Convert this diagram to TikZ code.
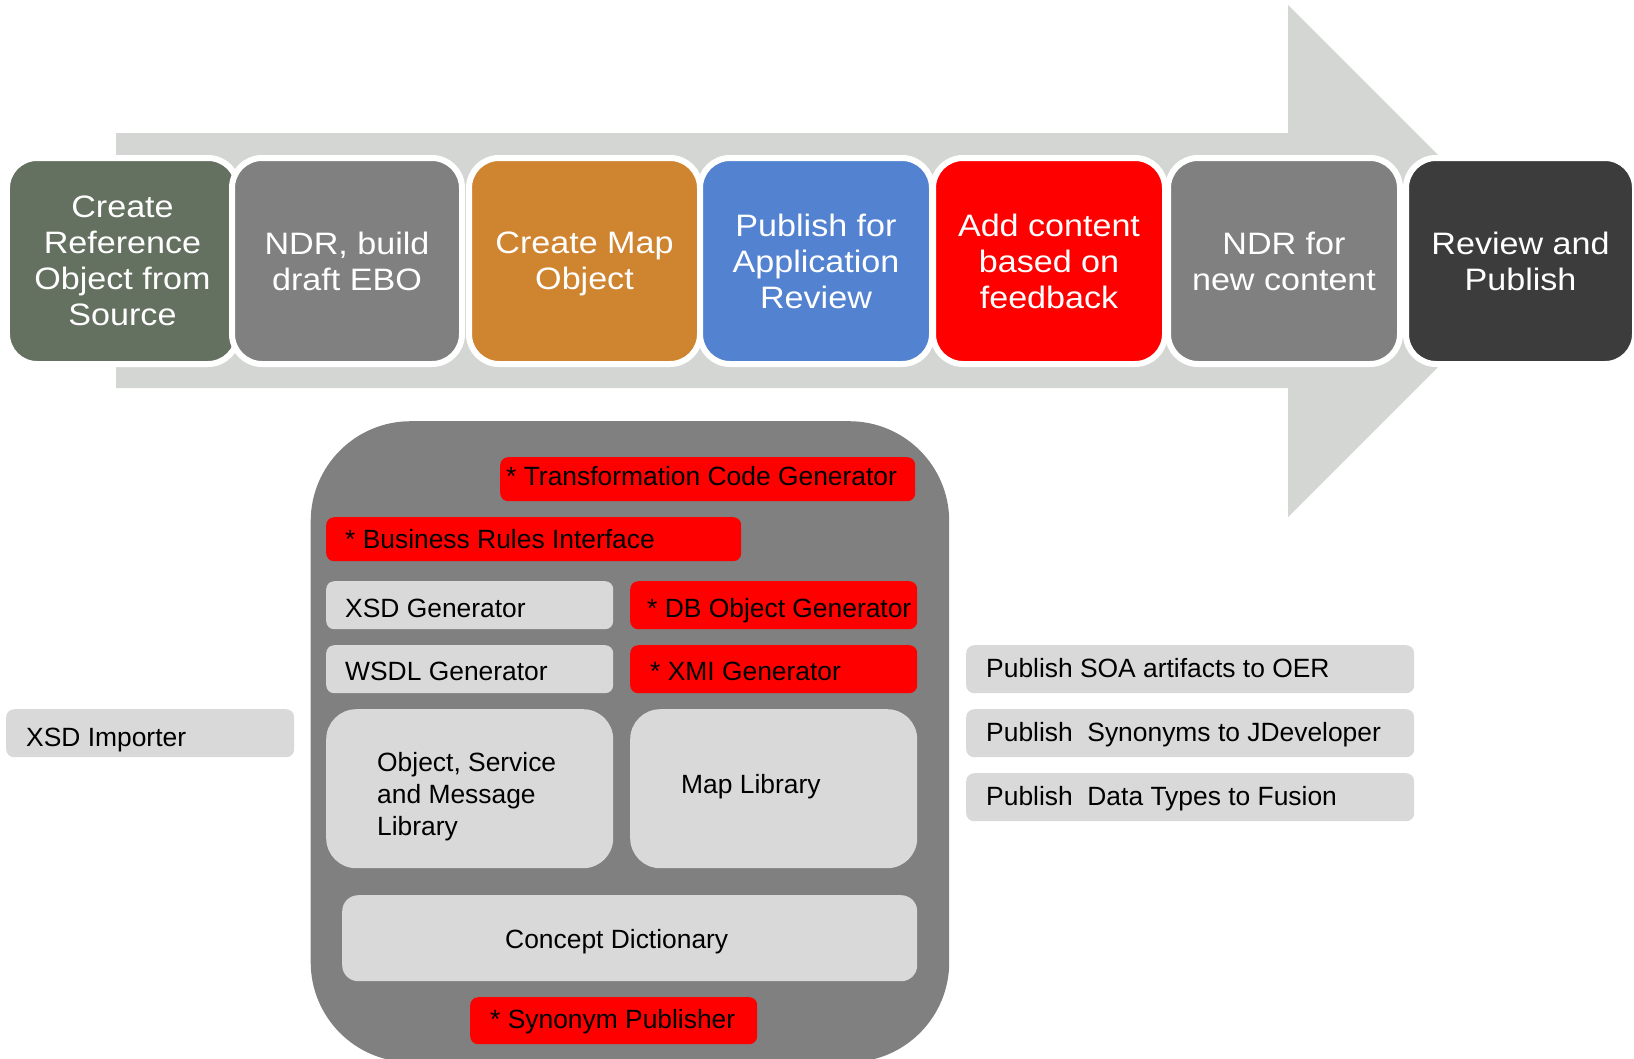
\documentclass[tikz,border=0pt]{standalone}
\usepackage{fontspec}
\usepackage{graphicx}
\setmainfont{Liberation Sans}
\definecolor{arrowgray}{RGB}{212,214,211}
\definecolor{stepgreen}{RGB}{100,112,96}
\definecolor{midgray}{RGB}{128,128,128}
\definecolor{steporange}{RGB}{207,132,48}
\definecolor{stepblue}{RGB}{82,130,208}
\definecolor{stepred}{RGB}{255,0,0}
\definecolor{stepdark}{RGB}{60,60,60}
\definecolor{lightbox}{RGB}{217,217,217}
% header lines are set slightly wide
\newcommand\hw[1]{\scalebox{1.10}[1]{#1}}
\begin{document}
\begin{tikzpicture}[x=1bp,y=-1bp,
  stepbox/.style={draw=white, line width=6bp, rounded corners=30bp,
    minimum width=#1, minimum height=206bp, inner sep=0pt,
    text=white, align=center, text depth=0pt,
    font=\fontsize{31bp}{36bp}\selectfont},
  panel/.style={fill=midgray, rounded corners=100bp, inner sep=0pt, anchor=north west},
  tool/.style={fill=lightbox, rounded corners=8bp, inner sep=0pt, anchor=north west},
  newtool/.style={fill=stepred, rounded corners=8bp, inner sep=0pt, anchor=north west},
  lib/.style={fill=lightbox, rounded corners=30bp, inner sep=0pt, anchor=north west},
  lbl/.style={anchor=base west, inner sep=0pt, text=black,
    font=\fontsize{26.4bp}{31.6bp}\selectfont},
  mlbl/.style={anchor=north west, inner sep=0pt, text=black, align=left,
    font=\fontsize{26.4bp}{31.6bp}\selectfont}]
\useasboundingbox (0,0) rectangle (1634,1058);

% process arrow
\fill[arrowgray] (116,133) -- (1288,133) -- (1288,5) -- (1544,261)
  -- (1288,517) -- (1288,388) -- (116,388) -- cycle;

% process steps
\node[stepbox=231bp, fill=stepgreen]  (s1) at (122.5,261) {\hw{Create}\\\hw{Reference}\\\hw{Object from}\\\hw{Source}};
\node[stepbox=230bp, fill=midgray]    (s2) at (347,261)   {\hw{NDR, build}\\\hw{draft EBO}};
\node[stepbox=231bp, fill=steporange] (s3) at (584.5,261) {\hw{Create Map}\\\hw{Object}};
\node[stepbox=232bp, fill=stepblue]   (s4) at (816,261)   {\hw{Publish for}\\\hw{Application}\\\hw{Review}};
\node[stepbox=232bp, fill=stepred]    (s5) at (1049,261)  {\hw{Add content}\\\hw{based on}\\\hw{feedback}};
\node[stepbox=232bp, fill=midgray]    (s6) at (1284,261)  {\hw{NDR for}\\\hw{new content}};
\node[stepbox=229bp, fill=stepdark]   (s7) at (1520.5,261){\hw{Review and}\\\hw{Publish}};

% tool set panel
\node[panel, minimum width=638.5bp, minimum height=641bp] (pan) at (310.5,421) {};

\node[newtool, minimum width=415bp, minimum height=44bp] (tcg) at (500,457) {};
\node[lbl] (tcgT) at (506,485) {* Transformation Code Generator};

\node[newtool, minimum width=415bp, minimum height=44bp] (bri) at (326,517) {};
\node[lbl] (briT) at (345,548) {* Business Rules Interface};

\node[tool, minimum width=287bp, minimum height=48bp] (xsdg) at (326,581) {};
\node[lbl] (xsdgT) at (345,617) {XSD Generator};

\node[newtool, minimum width=287bp, minimum height=48bp] (dbo) at (630,581) {};
\node[lbl] (dboT) at (647,617) {* DB Object Generator};

\node[tool, minimum width=287bp, minimum height=48bp] (wsdl) at (326,645) {};
\node[lbl] (wsdlT) at (345,680) {WSDL Generator};

\node[newtool, minimum width=287bp, minimum height=48bp] (xmi) at (630,645) {};
\node[lbl] (xmiT) at (650,680) {* XMI Generator};

\node[lib, minimum width=287bp, minimum height=159bp] (osm) at (326,709) {};
\node[mlbl] (osmT) at (377,752.5) {Object, Service\\and Message\\Library};

\node[lib, minimum width=287bp, minimum height=159bp] (map) at (630,709) {};
\node[lbl] (mapT) at (681,793) {Map Library};

\node[tool, rounded corners=16bp, minimum width=575bp, minimum height=86bp] (cd) at (342,895) {};
\node[lbl] (cdT) at (505,948) {Concept Dictionary};

\node[newtool, minimum width=287bp, minimum height=47bp] (syn) at (470,997) {};
\node[lbl] (synT) at (490,1028) {* Synonym Publisher};

% importer and publishers
\node[tool, minimum width=288bp, minimum height=48bp] (imp) at (6,709) {};
\node[lbl] (impT) at (26,746) {XSD Importer};

\node[tool, minimum width=448bp, minimum height=48bp] (soa) at (966,645) {};
\node[lbl] (soaT) at (986,677) {Publish SOA artifacts to OER};

\node[tool, minimum width=448bp, minimum height=48bp] (jdev) at (966,709) {};
\node[lbl] (jdevT) at (986,741) {Publish\ \ Synonyms to JDeveloper};

\node[tool, minimum width=448bp, minimum height=48bp] (fus) at (966,773) {};
\node[lbl] (fusT) at (986,805) {Publish\ \ Data Types to Fusion};
\end{tikzpicture}
\end{document}
